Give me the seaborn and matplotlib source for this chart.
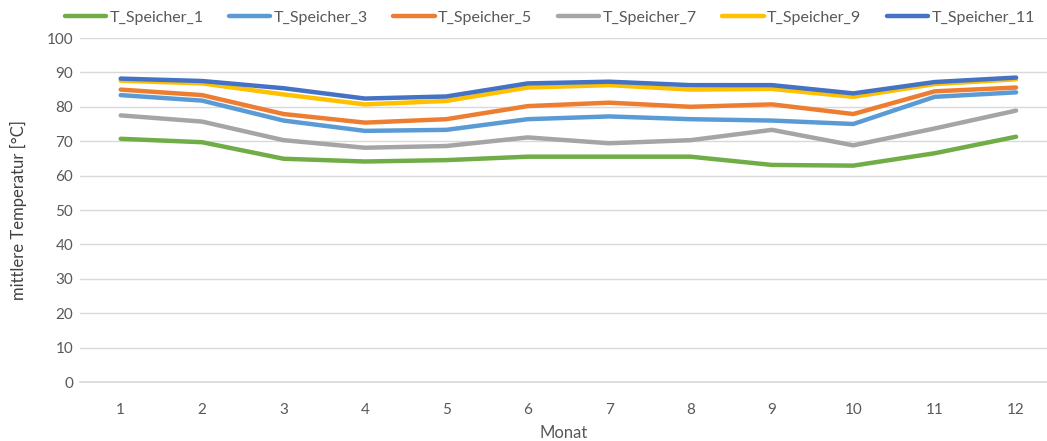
import pandas as pd
import matplotlib.pyplot as plt
import seaborn as sns

# Monthly mean storage temperatures
months = list(range(1, 13))
t_speicher_1 = [70.7, 69.7, 64.9, 64.1, 64.5, 65.5, 65.5, 65.5, 63.1, 62.9, 66.5, 71.3]
t_speicher_3 = [83.4, 81.8, 76.0, 73.0, 73.3, 76.4, 77.2, 76.4, 76.0, 75.0, 82.9, 84.2]
t_speicher_5 = [85.0, 83.4, 77.9, 75.4, 76.4, 80.2, 81.2, 80.0, 80.7, 77.9, 84.5, 85.6]
t_speicher_7 = [77.5, 75.7, 70.3, 68.1, 68.6, 71.1, 69.4, 70.3, 73.3, 68.8, 73.7, 78.9]
t_speicher_9 = [87.6, 86.8, 83.6, 80.7, 81.7, 85.6, 86.3, 85.0, 85.2, 82.9, 86.6, 88.0]
t_speicher_11 = [88.2, 87.5, 85.4, 82.4, 83.0, 86.8, 87.3, 86.3, 86.3, 83.9, 87.2, 88.5]

series = {
    "T_Speicher_1": t_speicher_1,
    "T_Speicher_3": t_speicher_3,
    "T_Speicher_5": t_speicher_5,
    "T_Speicher_7": t_speicher_7,
    "T_Speicher_9": t_speicher_9,
    "T_Speicher_11": t_speicher_11,
}
colors = ["#70AD47", "#5B9BD5", "#ED7D31", "#A5A5A5", "#FFC000", "#4472C4"]

rows = []
for name, vals in series.items():
    for m, v in zip(months, vals):
        rows.append({"Monat": m, "Temperatur": v, "Sensor": name})
df = pd.DataFrame(rows)

sns.set_theme(style="white")
plt.rcParams["font.family"] = ["Lato", "DejaVu Sans"]

fig = plt.figure(figsize=(10.47, 4.41), dpi=100)
ax = fig.add_axes([80 / 1047, 1 - 382 / 441, 967 / 1047, 344 / 441])

sns.lineplot(data=df, x="Monat", y="Temperatur", hue="Sensor",
             palette=colors, linewidth=3.2, ax=ax, legend=True)

ax.set_xlim(0.5, 0.5 + 967 / 81.4)
ax.set_ylim(0, 100)
ax.set_xticks(months)
ax.set_yticks(range(0, 101, 10))
ax.tick_params(axis="both", colors="#595959", labelsize=11, length=0)
ax.tick_params(axis="x", pad=15)
ax.tick_params(axis="y", pad=5)
ax.grid(axis="y", color="#D9D9D9", linewidth=1)
ax.set_axisbelow(True)
for s in ["top", "right", "left"]:
    ax.spines[s].set_visible(False)
ax.spines["bottom"].set_color("#D9D9D9")

ax.set_xlabel("Monat", color="#595959", fontsize=12, labelpad=6)
ax.set_ylabel("mittlere Temperatur [°C]", color="#404040", fontsize=12, labelpad=14)

handles, labels = ax.get_legend_handles_labels()
ax.legend_.remove()
fig.legend(handles, labels, loc="center", bbox_to_anchor=(0.525, 1 - 18 / 441),
           ncol=6, frameon=False, fontsize=11.5, handlelength=2.6,
           handletextpad=0.2, columnspacing=1.6, labelcolor="#595959")

plt.savefig("out.png", dpi=100)
